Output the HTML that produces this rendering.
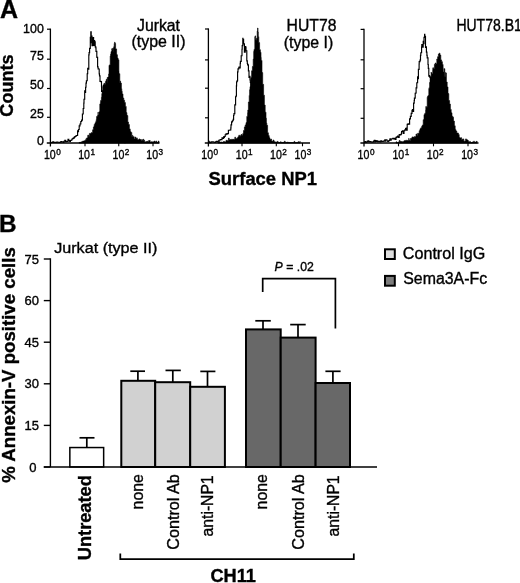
<!DOCTYPE html>
<html lang="en"><head><meta charset="utf-8"><title>Figure</title>
<style>html,body{margin:0;padding:0;background:#fff}svg{display:block;will-change:transform}text{stroke:#000;stroke-width:.35px}</style></head>
<body>
<svg width="520" height="583" viewBox="0 0 520 583" font-family='"Liberation Sans", Arial, Helvetica, sans-serif' fill="#000">
<rect width="520" height="583" fill="#fff"/>
<text x="0" y="17.6" font-size="25" font-weight="bold">A</text>
<text transform="translate(13.4,85.5) rotate(-90)" text-anchor="middle" font-size="17.5" font-weight="bold" textLength="62.3" lengthAdjust="spacingAndGlyphs">Counts</text>
<text x="43.8" y="32.6" font-size="12.4" text-anchor="end">100</text>
<text x="43.8" y="60.3" font-size="12.4" text-anchor="end">75</text>
<text x="43.8" y="88.6" font-size="12.4" text-anchor="end">50</text>
<text x="43.8" y="117.5" font-size="12.4" text-anchor="end">25</text>
<text x="43.8" y="144.5" font-size="12.4" text-anchor="end">0</text>
<path d="M50.4,28.599999999999998 V146.5" stroke="#000" stroke-width="1.3" fill="none"/>
<path d="M46.8,143.0 H159.5" stroke="#000" stroke-width="1.5" fill="none"/>
<path d="M47.0,29.2 H50.4" stroke="#000" stroke-width="1.2"/>
<path d="M47.0,59.2 H50.4" stroke="#000" stroke-width="1.2"/>
<path d="M47.0,88.5 H50.4" stroke="#000" stroke-width="1.2"/>
<path d="M47.0,117.3 H50.4" stroke="#000" stroke-width="1.2"/>
<path d="M85,143.0 V146.3" stroke="#000" stroke-width="1.1"/>
<path d="M118.75,143.0 V146.3" stroke="#000" stroke-width="1.1"/>
<path d="M153,143.0 V146.3" stroke="#000" stroke-width="1.1"/>
<polyline points="50.4,142.6 51.2,142.6 51.2,142.5 52.0,142.5 52.0,142.4 52.8,142.4 52.8,141.9 53.6,141.9 53.6,142.5 54.4,142.5 54.4,142.4 55.2,142.4 55.2,142.4 56.0,142.4 56.0,142.4 56.8,142.4 56.8,142.0 57.6,142.0 57.6,142.2 58.4,142.2 58.4,142.2 59.2,142.2 59.2,142.3 60.0,142.3 60.0,142.4 60.8,142.4 60.8,141.6 61.6,141.6 61.6,141.8 62.4,141.8 62.4,141.8 63.2,141.8 63.2,142.3 64.0,142.3 64.0,141.2 64.8,141.2 64.8,140.3 65.6,140.3 65.6,141.6 66.0,141.6 66.0,141.6 66.4,141.6 66.4,141.4 67.2,141.4 67.2,141.3 68.0,141.3 68.0,139.2 68.8,139.2 68.8,140.6 69.6,140.6 69.6,141.1 70.0,141.1 70.0,141.3 70.4,141.3 70.4,140.5 71.2,140.5 71.2,140.0 72.0,140.0 72.0,139.0 72.7,139.0 72.7,138.8 72.8,138.8 72.8,138.3 73.6,138.3 73.6,137.8 74.4,137.8 74.4,136.8 75.2,136.8 75.2,136.5 76.0,136.5 76.0,135.7 76.2,135.7 76.2,135.5 76.8,135.5 76.8,135.5 77.6,135.5 77.6,130.7 78.4,130.7 78.4,131.7 78.5,131.7 78.5,129.5 79.2,129.5 79.2,125.9 80.0,125.9 80.0,124.0 80.8,124.0 80.8,121.5 81.6,121.5 81.6,120.1 82.4,120.1 82.4,114.0 83.2,114.0 83.2,108.5 83.8,108.5 83.8,103.1 84.0,103.1 84.0,99.2 84.7,99.2 84.7,90.7 84.8,90.7 84.8,92.5 85.6,92.5 85.6,87.2 86.0,87.2 86.0,83.1 86.4,83.1 86.4,80.7 87.2,80.7 87.2,73.7 87.7,73.7 87.7,68.4 88.0,68.4 88.0,69.2 88.8,69.2 88.8,54.8 89.1,54.8 89.1,52.6 89.6,52.6 89.6,48.3 90.3,48.3 90.3,37.3 90.4,37.3 90.4,42.6 90.8,42.6 90.8,31.8 91.2,31.8 91.2,36.1 92.0,36.1 92.0,45.6 92.8,45.6 92.8,38.8 93.2,38.8 93.2,37.5 93.6,37.5 93.6,45.5 94.4,45.5 94.4,40.5 94.6,40.5 94.6,41.9 95.2,41.9 95.2,46.9 95.8,46.9 95.8,47.9 96.0,47.9 96.0,51.3 96.8,51.3 96.8,56.8 96.9,56.8 96.9,57.4 97.6,57.4 97.6,66.8 98.1,66.8 98.1,68.8 98.4,68.8 98.4,69.0 99.2,69.0 99.2,73.9 99.5,73.9 99.5,75.8 100.0,75.8 100.0,81.4 100.8,81.4 100.8,81.6 101.5,81.6 101.5,86.7 101.6,86.7 101.6,91.4 102.4,91.4 102.4,90.8 103.0,90.8 103.0,95.5 103.2,95.5 103.2,96.3 104.0,96.3 104.0,105.4 104.8,105.4 104.8,108.0 105.6,108.0 105.6,114.8 106.0,114.8 106.0,117.7 106.4,117.7 106.4,119.1 107.2,119.1 107.2,125.1 108.0,125.1 108.0,124.8 108.8,124.8 108.8,129.3 109.6,129.3 109.6,132.7 110.0,132.7 110.0,134.3 110.4,134.3 110.4,133.3 111.2,133.3 111.2,136.6 112.0,136.6 112.0,136.8 112.8,136.8 112.8,138.2 113.6,138.2 113.6,138.4 114.4,138.4 114.4,138.1 115.0,138.1 115.0,139.9 115.2,139.9 115.2,140.6 116.0,140.6 116.0,138.7 116.8,138.7 116.8,140.4 117.6,140.4 117.6,141.6 118.4,141.6 118.4,141.8 119.2,141.8 119.2,141.0 120.0,141.0 120.0,142.1 120.8,142.1 120.8,140.7 121.6,140.7 121.6,140.9 122.4,140.9 122.4,142.2 123.2,142.2 123.2,141.8 124.0,141.8 124.0,142.4 124.8,142.4 124.8,142.6 125.0,142.6 125.0,142.5" fill="none" stroke="#000" stroke-width="1.15" stroke-linejoin="miter"/>
<polygon points="79.0,143.1 79.0,142.6 79.8,142.6 79.8,142.2 80.6,142.2 80.6,142.6 81.4,142.6 81.4,141.8 82.2,141.8 82.2,141.3 83.0,141.3 83.0,141.1 83.8,141.1 83.8,141.0 84.6,141.0 84.6,140.6 85.4,140.6 85.4,139.7 86.2,139.7 86.2,138.2 87.0,138.2 87.0,137.9 87.7,137.9 87.7,136.3 87.8,136.3 87.8,135.1 88.6,135.1 88.6,136.2 89.4,136.2 89.4,133.4 90.2,133.4 90.2,133.5 91.0,133.5 91.0,133.3 91.2,133.3 91.2,132.6 91.8,132.6 91.8,132.8 92.6,132.8 92.6,129.8 93.4,129.8 93.4,127.0 94.0,127.0 94.0,126.2 94.2,126.2 94.2,124.4 95.0,124.4 95.0,122.8 95.8,122.8 95.8,121.5 96.2,121.5 96.2,119.6 96.6,119.6 96.6,116.5 97.4,116.5 97.4,115.6 98.0,115.6 98.0,112.1 98.2,112.1 98.2,114.9 99.0,114.9 99.0,111.8 99.8,111.8 99.8,104.1 100.4,104.1 100.4,102.5 100.6,102.5 100.6,100.5 101.4,100.5 101.4,97.3 101.8,97.3 101.8,93.7 102.2,93.7 102.2,92.0 102.7,92.0 102.7,86.6 103.0,86.6 103.0,84.9 103.8,84.9 103.8,83.7 104.4,83.7 104.4,83.1 104.6,83.1 104.6,84.2 105.4,84.2 105.4,81.4 105.9,81.4 105.9,81.3 106.2,81.3 106.2,79.5 107.0,79.5 107.0,82.5 107.2,82.5 107.2,77.5 107.8,77.5 107.8,77.1 108.6,77.1 108.6,74.0 109.0,74.0 109.0,65.4 109.4,65.4 109.4,64.9 110.2,64.9 110.2,56.0 110.6,56.0 110.6,54.1 111.0,54.1 111.0,51.6 111.8,51.6 111.8,48.7 112.1,48.7 112.1,49.7 112.6,49.7 112.6,48.3 113.4,48.3 113.4,51.5 113.7,51.5 113.7,46.8 114.2,46.8 114.2,43.5 114.7,43.5 114.7,42.1 115.0,42.1 115.0,43.5 115.6,43.5 115.6,48.8 115.8,48.8 115.8,48.9 116.6,48.9 116.6,54.1 116.8,54.1 116.8,54.8 117.4,54.8 117.4,58.0 118.1,58.0 118.1,59.4 118.2,59.4 118.2,59.8 118.9,59.8 118.9,71.3 119.0,71.3 119.0,73.7 119.8,73.7 119.8,83.1 120.0,83.1 120.0,81.2 120.6,81.2 120.6,83.1 121.4,83.1 121.4,88.7 121.8,88.7 121.8,91.3 122.2,91.3 122.2,93.9 123.0,93.9 123.0,98.0 123.8,98.0 123.8,100.3 124.6,100.3 124.6,102.6 125.4,102.6 125.4,106.4 126.2,106.4 126.2,112.6 126.9,112.6 126.9,114.9 127.0,114.9 127.0,115.6 127.8,115.6 127.8,122.1 128.5,122.1 128.5,123.6 128.6,123.6 128.6,124.6 129.4,124.6 129.4,128.9 130.2,128.9 130.2,130.7 130.4,130.7 130.4,131.7 131.0,131.7 131.0,132.4 131.8,132.4 131.8,136.5 132.6,136.5 132.6,135.1 132.7,135.1 132.7,136.6 133.4,136.6 133.4,136.7 134.2,136.7 134.2,138.9 135.0,138.9 135.0,137.1 135.8,137.1 135.8,138.4 136.6,138.4 136.6,137.9 137.3,137.9 137.3,139.4 137.4,139.4 137.4,139.6 138.2,139.6 138.2,139.7 139.0,139.7 139.0,138.9 139.8,138.9 139.8,139.5 140.6,139.5 140.6,139.5 141.4,139.5 141.4,140.8 142.2,140.8 142.2,139.8 143.0,139.8 143.0,139.3 143.8,139.3 143.8,141.0 144.2,141.0 144.2,140.3 144.6,140.3 144.6,141.7 145.4,141.7 145.4,141.9 146.2,141.9 146.2,141.5 147.0,141.5 147.0,141.3 147.8,141.3 147.8,141.8 148.6,141.8 148.6,140.5 149.4,140.5 149.4,140.5 150.2,140.5 150.2,142.4 151.0,142.4 151.0,141.8 151.8,141.8 151.8,142.3 152.6,142.3 152.6,141.7 153.4,141.7 153.4,141.7 153.5,141.7 153.5,142.2 154.2,142.2 154.2,141.1 155.0,141.1 155.0,142.6 155.8,142.6 155.8,141.0 156.6,141.0 156.6,142.6 157.4,142.6 157.4,142.5 158.2,142.5 158.2,141.1 159.0,141.1 159.0,142.6 159.0,143.1" fill="#000" stroke="#000" stroke-width="0.6"/>
<text x="43.9" y="159.2" font-size="12" textLength="11.8" lengthAdjust="spacingAndGlyphs">10</text><text x="56.2" y="154.79999999999998" font-size="8.2">0</text>
<text x="78.2" y="159.2" font-size="12" textLength="11.8" lengthAdjust="spacingAndGlyphs">10</text><text x="90.5" y="154.79999999999998" font-size="8.2">1</text>
<text x="112.5" y="159.2" font-size="12" textLength="11.8" lengthAdjust="spacingAndGlyphs">10</text><text x="124.8" y="154.79999999999998" font-size="8.2">2</text>
<text x="146.3" y="159.2" font-size="12" textLength="11.8" lengthAdjust="spacingAndGlyphs">10</text><text x="158.60000000000002" y="154.79999999999998" font-size="8.2">3</text>
<text x="158.5" y="31" font-size="15.6" text-anchor="middle" textLength="43" lengthAdjust="spacingAndGlyphs">Jurkat</text>
<text x="158.5" y="47.2" font-size="15.6" text-anchor="middle" textLength="54" lengthAdjust="spacingAndGlyphs">(type II)</text>
<path d="M208.4,28.4 V146.5" stroke="#000" stroke-width="1.3" fill="none"/>
<path d="M204.8,143.0 H310" stroke="#000" stroke-width="1.5" fill="none"/>
<path d="M205.0,29.0 H208.4" stroke="#000" stroke-width="1.2"/>
<path d="M205.0,59.9 H208.4" stroke="#000" stroke-width="1.2"/>
<path d="M205.0,88.2 H208.4" stroke="#000" stroke-width="1.2"/>
<path d="M205.0,117.8 H208.4" stroke="#000" stroke-width="1.2"/>
<path d="M242,143.0 V146.3" stroke="#000" stroke-width="1.1"/>
<path d="M276.3,143.0 V146.3" stroke="#000" stroke-width="1.1"/>
<path d="M302.5,143.0 V146.3" stroke="#000" stroke-width="1.1"/>
<polyline points="208.4,141.4 209.2,141.4 209.2,142.4 210.0,142.4 210.0,142.6 210.8,142.6 210.8,142.1 211.6,142.1 211.6,141.8 212.4,141.8 212.4,141.8 213.2,141.8 213.2,142.0 214.0,142.0 214.0,142.2 214.8,142.2 214.8,142.4 215.6,142.4 215.6,141.7 216.4,141.7 216.4,141.2 217.2,141.2 217.2,141.9 218.0,141.9 218.0,141.2 218.8,141.2 218.8,140.2 219.6,140.2 219.6,140.0 220.4,140.0 220.4,139.5 220.7,139.5 220.7,139.7 221.2,139.7 221.2,139.6 222.0,139.6 222.0,137.8 222.8,137.8 222.8,138.4 223.6,138.4 223.6,136.8 224.0,136.8 224.0,137.3 224.4,137.3 224.4,136.5 225.2,136.5 225.2,134.7 226.0,134.7 226.0,133.7 226.8,133.7 226.8,134.1 227.2,134.1 227.2,133.5 227.6,133.5 227.6,133.6 228.4,133.6 228.4,130.2 229.2,130.2 229.2,130.2 230.0,130.2 230.0,130.0 230.8,130.0 230.8,127.8 231.0,127.8 231.0,124.9 231.6,124.9 231.6,121.9 232.4,121.9 232.4,120.7 233.2,120.7 233.2,119.3 233.6,119.3 233.6,115.2 234.0,115.2 234.0,113.6 234.8,113.6 234.8,104.8 235.6,104.8 235.6,97.5 235.7,97.5 235.7,96.2 236.4,96.2 236.4,85.8 236.6,85.8 236.6,81.7 237.2,81.7 237.2,80.6 237.6,80.6 237.6,71.8 238.0,71.8 238.0,68.9 238.8,68.9 238.8,67.5 239.0,67.5 239.0,67.1 239.6,67.1 239.6,67.9 240.2,67.9 240.2,63.3 240.4,63.3 240.4,61.4 241.2,61.4 241.2,55.7 242.0,55.7 242.0,49.2 242.2,49.2 242.2,45.6 242.8,45.6 242.8,38.2 242.9,38.2 242.9,39.3 243.6,39.3 243.6,43.8 244.4,43.8 244.4,52.1 245.2,52.1 245.2,46.6 245.7,46.6 245.7,47.3 246.0,47.3 246.0,50.7 246.8,50.7 246.8,60.9 247.3,60.9 247.3,63.5 247.6,63.5 247.6,64.9 248.4,64.9 248.4,70.9 249.0,70.9 249.0,77.4 249.2,77.4 249.2,76.2 250.0,76.2 250.0,80.0 250.3,80.0 250.3,82.4 250.8,82.4 250.8,88.5 251.6,88.5 251.6,94.9 252.0,94.9 252.0,100.2 252.4,100.2 252.4,103.8 253.2,103.8 253.2,113.8 254.0,113.8 254.0,125.2 254.8,125.2 254.8,130.9 255.6,130.9 255.6,134.0 256.4,134.0 256.4,137.1 257.0,137.1 257.0,138.1 257.2,138.1 257.2,137.7 258.0,137.7 258.0,139.7 258.8,139.7 258.8,138.7 259.6,138.7 259.6,139.2 260.4,139.2 260.4,141.2 261.2,141.2 261.2,141.8 262.0,141.8 262.0,142.4" fill="none" stroke="#000" stroke-width="1.15" stroke-linejoin="miter"/>
<polygon points="218.0,143.1 218.0,142.6 218.8,142.6 218.8,141.6 219.6,141.6 219.6,142.3 220.4,142.3 220.4,142.1 221.2,142.1 221.2,142.0 222.0,142.0 222.0,142.3 222.8,142.3 222.8,142.4 223.3,142.4 223.3,141.6 223.6,141.6 223.6,141.5 224.4,141.5 224.4,141.7 225.2,141.7 225.2,142.0 226.0,142.0 226.0,140.3 226.8,140.3 226.8,140.7 227.6,140.7 227.6,140.6 228.0,140.6 228.0,140.8 228.4,140.8 228.4,138.1 229.2,138.1 229.2,139.7 230.0,139.7 230.0,139.5 230.8,139.5 230.8,139.8 231.6,139.8 231.6,139.2 232.4,139.2 232.4,139.6 233.2,139.6 233.2,139.5 233.6,139.5 233.6,139.1 234.0,139.1 234.0,139.4 234.8,139.4 234.8,137.2 235.6,137.2 235.6,139.0 236.4,139.0 236.4,138.6 237.2,138.6 237.2,137.8 238.0,137.8 238.0,136.7 238.8,136.7 238.8,135.2 239.6,135.2 239.6,136.3 240.4,136.3 240.4,135.6 241.2,135.6 241.2,134.3 241.3,134.3 241.3,134.5 242.0,134.5 242.0,135.2 242.8,135.2 242.8,133.4 243.5,133.4 243.5,130.5 243.6,130.5 243.6,130.6 244.4,130.6 244.4,126.9 245.2,126.9 245.2,124.9 246.0,124.9 246.0,122.6 246.8,122.6 246.8,116.4 247.6,116.4 247.6,112.7 247.8,112.7 247.8,110.0 248.4,110.0 248.4,102.0 249.2,102.0 249.2,95.4 249.6,95.4 249.6,89.7 250.0,89.7 250.0,86.7 250.8,86.7 250.8,77.5 251.6,77.5 251.6,70.8 252.4,70.8 252.4,66.5 253.2,66.5 253.2,59.1 253.7,59.1 253.7,51.5 254.0,51.5 254.0,49.4 254.8,49.4 254.8,36.9 255.0,36.9 255.0,35.9 255.6,35.9 255.6,39.8 256.2,39.8 256.2,41.0 256.4,41.0 256.4,38.3 257.2,38.3 257.2,31.1 257.6,31.1 257.6,28.0 258.0,28.0 258.0,31.9 258.3,31.9 258.3,36.7 258.8,36.7 258.8,42.7 259.2,42.7 259.2,42.6 259.6,42.6 259.6,49.7 260.4,49.7 260.4,52.3 261.0,52.3 261.0,57.4 261.2,57.4 261.2,60.4 262.0,60.4 262.0,72.6 262.7,72.6 262.7,85.0 262.8,85.0 262.8,84.4 263.6,84.4 263.6,95.2 264.4,95.2 264.4,105.1 265.2,105.1 265.2,112.2 266.0,112.2 266.0,118.2 266.4,118.2 266.4,123.0 266.8,123.0 266.8,125.3 267.6,125.3 267.6,132.8 268.4,132.8 268.4,135.6 269.2,135.6 269.2,137.8 270.0,137.8 270.0,139.6 270.8,139.6 270.8,139.1 271.6,139.1 271.6,141.1 272.4,141.1 272.4,141.3 273.2,141.3 273.2,140.0 274.0,140.0 274.0,141.6 274.8,141.6 274.8,141.9 275.6,141.9 275.6,142.2 276.4,142.2 276.4,142.1 277.2,142.1 277.2,141.4 278.0,141.4 278.0,142.2 278.8,142.2 278.8,142.6 279.6,142.6 279.6,142.6 280.0,142.6 280.0,142.4 280.4,142.4 280.4,141.8 281.2,141.8 281.2,142.5 282.0,142.5 282.0,142.6 282.8,142.6 282.8,142.3 283.6,142.3 283.6,142.6 284.4,142.6 284.4,141.2 285.2,141.2 285.2,142.5 286.0,142.5 286.0,142.5 286.8,142.5 286.8,142.0 287.6,142.0 287.6,142.6 288.4,142.6 288.4,142.3 289.2,142.3 289.2,142.6 290.0,142.6 290.0,142.6 290.8,142.6 290.8,142.5 291.6,142.5 291.6,142.5 292.4,142.5 292.4,142.6 293.2,142.6 293.2,142.6 294.0,142.6 294.0,141.4 294.8,141.4 294.8,142.6 295.6,142.6 295.6,142.6 296.4,142.6 296.4,142.5 297.2,142.5 297.2,142.6 298.0,142.6 298.0,141.7 298.8,141.7 298.8,142.6 299.6,142.6 299.6,142.6 300.0,142.6 300.0,141.2 300.0,143.1" fill="#000" stroke="#000" stroke-width="0.6"/>
<text x="201.3" y="159.2" font-size="12" textLength="11.8" lengthAdjust="spacingAndGlyphs">10</text><text x="213.60000000000002" y="154.79999999999998" font-size="8.2">0</text>
<text x="235.8" y="159.2" font-size="12" textLength="11.8" lengthAdjust="spacingAndGlyphs">10</text><text x="248.10000000000002" y="154.79999999999998" font-size="8.2">1</text>
<text x="270.0" y="159.2" font-size="12" textLength="11.8" lengthAdjust="spacingAndGlyphs">10</text><text x="282.3" y="154.79999999999998" font-size="8.2">2</text>
<text x="294.5" y="159.2" font-size="12" textLength="11.8" lengthAdjust="spacingAndGlyphs">10</text><text x="306.8" y="154.79999999999998" font-size="8.2">3</text>
<text x="286.6" y="30.8" font-size="15.6" textLength="49.8" lengthAdjust="spacingAndGlyphs">HUT78</text>
<text x="283.8" y="47.5" font-size="15.6" textLength="49.4" lengthAdjust="spacingAndGlyphs">(type I)</text>
<path d="M364.0,28.799999999999997 V146.5" stroke="#000" stroke-width="1.3" fill="none"/>
<path d="M360.4,143.0 H478.5" stroke="#000" stroke-width="1.5" fill="none"/>
<path d="M360.6,29.4 H364.0" stroke="#000" stroke-width="1.2"/>
<path d="M360.6,59.8 H364.0" stroke="#000" stroke-width="1.2"/>
<path d="M360.6,88.7 H364.0" stroke="#000" stroke-width="1.2"/>
<path d="M360.6,118.3 H364.0" stroke="#000" stroke-width="1.2"/>
<path d="M398.5,143.0 V146.3" stroke="#000" stroke-width="1.1"/>
<path d="M433.5,143.0 V146.3" stroke="#000" stroke-width="1.1"/>
<path d="M468,143.0 V146.3" stroke="#000" stroke-width="1.1"/>
<polyline points="364.0,142.4 364.8,142.4 364.8,141.6 365.6,141.6 365.6,142.4 366.4,142.4 366.4,142.1 367.2,142.1 367.2,141.3 368.0,141.3 368.0,140.8 368.8,140.8 368.8,142.0 369.6,142.0 369.6,141.5 370.4,141.5 370.4,141.9 371.2,141.9 371.2,141.7 372.0,141.7 372.0,142.2 372.8,142.2 372.8,142.0 373.6,142.0 373.6,141.1 374.4,141.1 374.4,140.3 375.0,140.3 375.0,142.0 375.2,142.0 375.2,140.5 376.0,140.5 376.0,141.3 376.8,141.3 376.8,140.7 377.6,140.7 377.6,141.6 378.4,141.6 378.4,141.4 379.2,141.4 379.2,141.2 380.0,141.2 380.0,141.8 380.8,141.8 380.8,140.8 381.6,140.8 381.6,141.3 382.4,141.3 382.4,141.3 383.2,141.3 383.2,141.2 384.0,141.2 384.0,140.9 384.8,140.9 384.8,139.9 385.0,139.9 385.0,141.2 385.6,141.2 385.6,139.9 386.4,139.9 386.4,140.0 387.2,140.0 387.2,141.2 388.0,141.2 388.0,141.3 388.8,141.3 388.8,140.5 389.6,140.5 389.6,140.1 390.0,140.1 390.0,138.8 390.4,138.8 390.4,140.1 391.2,140.1 391.2,139.0 392.0,139.0 392.0,138.7 392.8,138.7 392.8,138.4 393.6,138.4 393.6,138.9 394.4,138.9 394.4,138.5 394.6,138.5 394.6,138.4 395.2,138.4 395.2,139.5 396.0,139.5 396.0,137.3 396.8,137.3 396.8,136.7 397.6,136.7 397.6,136.1 398.0,136.1 398.0,136.8 398.4,136.8 398.4,137.5 399.2,137.5 399.2,134.6 400.0,134.6 400.0,134.8 400.8,134.8 400.8,134.2 401.5,134.2 401.5,132.4 401.6,132.4 401.6,131.5 402.4,131.5 402.4,130.7 403.2,130.7 403.2,133.3 404.0,133.3 404.0,130.7 404.8,130.7 404.8,129.9 405.6,129.9 405.6,128.5 406.2,128.5 406.2,128.0 406.4,128.0 406.4,130.1 407.2,130.1 407.2,124.3 408.0,124.3 408.0,123.8 408.8,123.8 408.8,124.1 409.6,124.1 409.6,118.8 410.4,118.8 410.4,116.3 411.2,116.3 411.2,113.3 412.0,113.3 412.0,110.4 412.6,110.4 412.6,109.6 412.8,109.6 412.8,111.5 413.6,111.5 413.6,103.1 414.2,103.1 414.2,100.5 414.4,100.5 414.4,98.1 415.2,98.1 415.2,93.2 416.0,93.2 416.0,92.5 416.1,92.5 416.1,87.9 416.8,87.9 416.8,82.7 417.6,82.7 417.6,76.9 417.7,76.9 417.7,78.6 418.4,78.6 418.4,69.3 419.1,69.3 419.1,64.2 419.2,64.2 419.2,61.6 420.0,61.6 420.0,60.1 420.5,60.1 420.5,55.3 420.8,55.3 420.8,52.7 421.6,52.7 421.6,47.0 421.8,47.0 421.8,44.6 422.4,44.6 422.4,47.1 423.2,47.1 423.2,41.2 423.5,41.2 423.5,43.6 424.0,43.6 424.0,37.4 424.6,37.4 424.6,34.3 424.8,34.3 424.8,36.2 425.5,36.2 425.5,47.3 425.6,47.3 425.6,46.9 426.4,46.9 426.4,52.1 426.9,52.1 426.9,55.4 427.2,55.4 427.2,57.9 428.0,57.9 428.0,64.5 428.3,64.5 428.3,68.3 428.8,68.3 428.8,76.2 429.6,76.2 429.6,75.5 429.7,75.5 429.7,77.1 430.4,77.1 430.4,83.1 431.2,83.1 431.2,93.8 432.0,93.8 432.0,99.7 432.8,99.7 432.8,110.5 433.6,110.5 433.6,112.1 434.4,112.1 434.4,122.2 435.0,122.2 435.0,124.8 435.2,124.8 435.2,124.9 436.0,124.9 436.0,128.4 436.8,128.4 436.8,128.5 437.6,128.5 437.6,132.8 438.4,132.8 438.4,133.1 439.2,133.1 439.2,136.5 440.0,136.5 440.0,138.1 440.8,138.1 440.8,137.4 441.6,137.4 441.6,138.6 442.4,138.6 442.4,139.6 443.2,139.6 443.2,139.8 444.0,139.8 444.0,141.0 444.8,141.0 444.8,141.5 445.6,141.5 445.6,141.2 446.0,141.2 446.0,142.3" fill="none" stroke="#000" stroke-width="1.15" stroke-linejoin="miter"/>
<polygon points="396.0,143.1 396.0,141.8 396.8,141.8 396.8,142.6 397.6,142.6 397.6,142.6 398.4,142.6 398.4,142.0 399.2,142.0 399.2,140.5 400.0,140.5 400.0,141.3 400.8,141.3 400.8,141.6 401.6,141.6 401.6,141.5 402.4,141.5 402.4,142.2 403.2,142.2 403.2,141.4 403.8,141.4 403.8,141.3 404.0,141.3 404.0,140.8 404.8,140.8 404.8,140.4 405.6,140.4 405.6,140.8 406.4,140.8 406.4,140.2 407.2,140.2 407.2,140.6 408.0,140.6 408.0,140.5 408.8,140.5 408.8,138.3 409.0,138.3 409.0,140.0 409.6,140.0 409.6,140.7 410.4,140.7 410.4,138.5 411.2,138.5 411.2,138.3 412.0,138.3 412.0,136.9 412.8,136.9 412.8,137.8 413.1,137.8 413.1,137.1 413.6,137.1 413.6,137.3 414.4,137.3 414.4,136.6 415.2,136.6 415.2,136.7 416.0,136.7 416.0,134.0 416.8,134.0 416.8,135.5 417.6,135.5 417.6,133.3 418.4,133.3 418.4,133.5 418.8,133.5 418.8,133.3 419.2,133.3 419.2,130.7 420.0,130.7 420.0,128.8 420.8,128.8 420.8,127.8 421.6,127.8 421.6,128.7 421.8,128.7 421.8,126.0 422.4,126.0 422.4,125.0 423.2,125.0 423.2,119.7 424.0,119.7 424.0,114.7 424.2,114.7 424.2,114.6 424.8,114.6 424.8,113.2 425.6,113.2 425.6,110.1 425.8,110.1 425.8,106.5 426.4,106.5 426.4,107.3 427.2,107.3 427.2,97.2 427.6,97.2 427.6,96.3 428.0,96.3 428.0,95.6 428.8,95.6 428.8,88.6 429.2,88.6 429.2,87.4 429.6,87.4 429.6,82.5 430.4,82.5 430.4,76.7 431.1,76.7 431.1,72.2 431.2,72.2 431.2,72.8 432.0,72.8 432.0,74.0 432.7,74.0 432.7,69.5 432.8,69.5 432.8,67.8 433.6,67.8 433.6,68.7 434.4,68.7 434.4,64.4 435.0,64.4 435.0,64.7 435.2,64.7 435.2,63.0 436.0,63.0 436.0,64.0 436.8,64.0 436.8,59.0 437.3,59.0 437.3,60.3 437.6,60.3 437.6,56.7 438.4,56.7 438.4,54.0 439.2,54.0 439.2,53.2 440.0,53.2 440.0,55.1 440.8,55.1 440.8,59.9 441.6,59.9 441.6,61.7 442.4,61.7 442.4,64.5 443.1,64.5 443.1,67.8 443.2,67.8 443.2,71.9 444.0,71.9 444.0,68.7 444.8,68.7 444.8,76.4 445.4,76.4 445.4,72.5 445.6,72.5 445.6,72.9 446.4,72.9 446.4,82.0 447.2,82.0 447.2,86.9 448.0,86.9 448.0,93.6 448.8,93.6 448.8,100.6 449.6,100.6 449.6,104.1 450.4,104.1 450.4,109.4 451.2,109.4 451.2,112.8 452.0,112.8 452.0,116.3 452.8,116.3 452.8,117.2 453.5,117.2 453.5,121.7 453.6,121.7 453.6,121.1 454.4,121.1 454.4,125.8 455.2,125.8 455.2,129.4 455.8,129.4 455.8,130.2 456.0,130.2 456.0,131.1 456.8,131.1 456.8,133.1 457.6,133.1 457.6,133.0 458.4,133.0 458.4,134.6 459.2,134.6 459.2,137.6 460.0,137.6 460.0,138.1 460.8,138.1 460.8,137.7 461.6,137.7 461.6,140.0 462.4,140.0 462.4,139.1 463.2,139.1 463.2,138.9 463.8,138.9 463.8,141.0 464.0,141.0 464.0,141.2 464.8,141.2 464.8,140.9 465.6,140.9 465.6,138.9 466.4,138.9 466.4,139.7 467.2,139.7 467.2,140.0 468.0,140.0 468.0,140.7 468.5,140.7 468.5,141.7 468.8,141.7 468.8,142.2 469.6,142.2 469.6,141.4 470.4,141.4 470.4,142.4 471.2,142.4 471.2,142.6 472.0,142.6 472.0,142.0 472.8,142.0 472.8,142.2 473.6,142.2 473.6,141.2 474.4,141.2 474.4,142.4 475.2,142.4 475.2,142.1 476.0,142.1 476.0,141.8 476.8,141.8 476.8,141.0 477.0,141.0 477.0,142.6 477.0,143.1" fill="#000" stroke="#000" stroke-width="0.6"/>
<text x="357.6" y="159.2" font-size="12" textLength="11.8" lengthAdjust="spacingAndGlyphs">10</text><text x="369.90000000000003" y="154.79999999999998" font-size="8.2">0</text>
<text x="392.4" y="159.2" font-size="12" textLength="11.8" lengthAdjust="spacingAndGlyphs">10</text><text x="404.7" y="154.79999999999998" font-size="8.2">1</text>
<text x="426.8" y="159.2" font-size="12" textLength="11.8" lengthAdjust="spacingAndGlyphs">10</text><text x="439.1" y="154.79999999999998" font-size="8.2">2</text>
<text x="461.2" y="159.2" font-size="12" textLength="11.8" lengthAdjust="spacingAndGlyphs">10</text><text x="473.5" y="154.79999999999998" font-size="8.2">3</text>
<text x="456.4" y="30.8" font-size="15.8" textLength="65.4" lengthAdjust="spacingAndGlyphs">HUT78.B1</text>
<text x="208.6" y="185.2" font-size="18" font-weight="bold" textLength="108.4" lengthAdjust="spacingAndGlyphs">Surface NP1</text>
<text x="-0.9" y="232.1" font-size="24.3" font-weight="bold">B</text>
<text transform="translate(15.2,365) rotate(-90)" text-anchor="middle" font-size="18" font-weight="bold" textLength="235.5" lengthAdjust="spacingAndGlyphs">% Annexin-V positive cells</text>
<text x="54.2" y="253.3" font-size="15.3" textLength="103.2" lengthAdjust="spacingAndGlyphs">Jurkat (type II)</text>
<path d="M43.8,259.0 H50.4" stroke="#000" stroke-width="1.4"/>
<text x="39.0" y="263.6" font-size="13" text-anchor="end">75</text>
<path d="M43.8,300.6 H50.4" stroke="#000" stroke-width="1.4"/>
<text x="39.0" y="305.2" font-size="13" text-anchor="end">60</text>
<path d="M43.8,342.2 H50.4" stroke="#000" stroke-width="1.4"/>
<text x="39.0" y="346.8" font-size="13" text-anchor="end">45</text>
<path d="M43.8,383.8 H50.4" stroke="#000" stroke-width="1.4"/>
<text x="39.0" y="388.4" font-size="13" text-anchor="end">30</text>
<path d="M43.8,425.4 H50.4" stroke="#000" stroke-width="1.4"/>
<text x="39.0" y="430.0" font-size="13" text-anchor="end">15</text>
<path d="M43.8,467.0 H50.4" stroke="#000" stroke-width="1.4"/>
<text x="36.4" y="471.6" font-size="13" text-anchor="end">0</text>
<path d="M50.4,258.3 V467.0" stroke="#000" stroke-width="1.4" fill="none"/>
<path d="M86.8,437.8 V447.5" stroke="#000" stroke-width="1.7"/><path d="M79.5,437.8 H94.5" stroke="#000" stroke-width="1.7"/>
<rect x="69.85" y="447.55" width="33.8" height="19.4" fill="#fff" stroke="#000" stroke-width="1.5"/>
<path d="M137.9,371.2 V381.5" stroke="#000" stroke-width="1.7"/><path d="M130.3,371.2 H145.0" stroke="#000" stroke-width="1.7"/>
<path d="M172.8,370.4 V382" stroke="#000" stroke-width="1.7"/><path d="M165.5,370.4 H180.8" stroke="#000" stroke-width="1.7"/>
<path d="M207.5,371.4 V387" stroke="#000" stroke-width="1.7"/><path d="M200.3,371.4 H215.4" stroke="#000" stroke-width="1.7"/>
<rect x="121.3" y="380.8" width="33.9" height="86.2" fill="#d1d1d1" stroke="#000" stroke-width="2"/>
<rect x="155.2" y="382.2" width="35.0" height="84.8" fill="#d1d1d1" stroke="#000" stroke-width="2"/>
<rect x="190.2" y="386.8" width="34.7" height="80.2" fill="#d1d1d1" stroke="#000" stroke-width="2"/>
<path d="M263.0,320.8 V330" stroke="#000" stroke-width="1.7"/><path d="M255.3,320.8 H270.8" stroke="#000" stroke-width="1.7"/>
<path d="M298.0,324.6 V338" stroke="#000" stroke-width="1.7"/><path d="M290.2,324.6 H305.7" stroke="#000" stroke-width="1.7"/>
<path d="M332.9,371.3 V383" stroke="#000" stroke-width="1.7"/><path d="M325.4,371.3 H340.6" stroke="#000" stroke-width="1.7"/>
<rect x="246.0" y="329.4" width="34.7" height="137.6" fill="#686868" stroke="#000" stroke-width="2"/>
<rect x="280.7" y="337.6" width="34.9" height="129.4" fill="#686868" stroke="#000" stroke-width="2"/>
<rect x="315.6" y="383.0" width="34.4" height="84.0" fill="#686868" stroke="#000" stroke-width="2"/>
<path d="M43.8,467.0 H377" stroke="#000" stroke-width="1.5"/>
<path d="M262.7,292 V278.7 H335.4 V328.4" stroke="#000" stroke-width="1.7" fill="none"/>
<text x="274.6" y="271.2" font-size="13.2" textLength="39.2" lengthAdjust="spacingAndGlyphs"><tspan font-style="italic">P</tspan> = .02</text>
<rect x="385" y="249.3" width="9.8" height="9.7" fill="#dedede" stroke="#000" stroke-width="2"/>
<rect x="385" y="275.9" width="9.8" height="9.8" fill="#7c7c7c" stroke="#000" stroke-width="2"/>
<text x="402.8" y="258.8" font-size="15.8" textLength="82.5" lengthAdjust="spacingAndGlyphs">Control IgG</text>
<text x="403.2" y="284.3" font-size="15.8" textLength="84" lengthAdjust="spacingAndGlyphs">Sema3A-Fc</text>
<text transform="translate(90.7,475.2) rotate(-90)" text-anchor="end" font-size="18.4" font-weight="bold" textLength="85" lengthAdjust="spacingAndGlyphs">Untreated</text>
<text transform="translate(143.0,474.2) rotate(-90)" text-anchor="end" font-size="15.8" textLength="35.2" lengthAdjust="spacingAndGlyphs">none</text>
<text transform="translate(179.3,474.2) rotate(-90)" text-anchor="end" font-size="15.8" textLength="75.6" lengthAdjust="spacingAndGlyphs">Control Ab</text>
<text transform="translate(213.3,475.4) rotate(-90)" text-anchor="end" font-size="15.8" textLength="61.0" lengthAdjust="spacingAndGlyphs">anti-NP1</text>
<text transform="translate(267.0,474.2) rotate(-90)" text-anchor="end" font-size="15.8" textLength="35.2" lengthAdjust="spacingAndGlyphs">none</text>
<text transform="translate(304.4,474.2) rotate(-90)" text-anchor="end" font-size="15.8" textLength="75.6" lengthAdjust="spacingAndGlyphs">Control Ab</text>
<text transform="translate(339.0,475.4) rotate(-90)" text-anchor="end" font-size="15.8" textLength="61.0" lengthAdjust="spacingAndGlyphs">anti-NP1</text>
<path d="M120.3,553.4 V559.2 H353.8 V553.4" stroke="#000" stroke-width="1.75" fill="none"/>
<text x="210.4" y="581.9" font-size="18" font-weight="bold" textLength="45.6" lengthAdjust="spacingAndGlyphs">CH11</text>
</svg>
</body></html>
